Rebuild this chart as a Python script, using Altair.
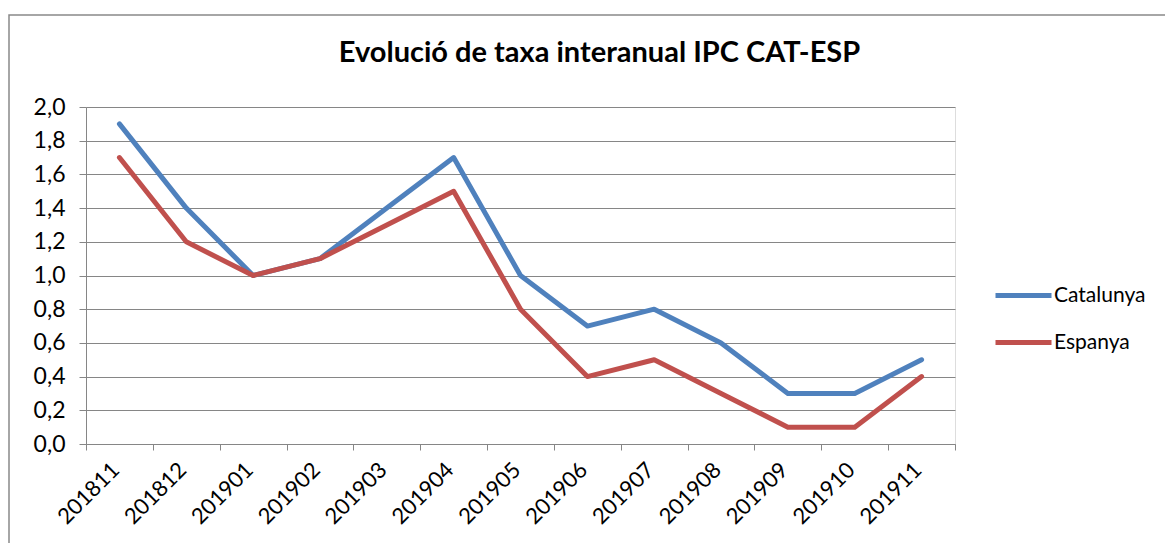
import altair as alt
import pandas as pd

periods = ["201811", "201812", "201901", "201902", "201903", "201904", "201905",
           "201906", "201907", "201908", "201909", "201910", "201911"]
catalunya = [1.9, 1.4, 1.0, 1.1, 1.4, 1.7, 1.0, 0.7, 0.8, 0.6, 0.3, 0.3, 0.5]
espanya = [1.7, 1.2, 1.0, 1.1, 1.3, 1.5, 0.8, 0.4, 0.5, 0.3, 0.1, 0.1, 0.4]
series_names = ["Catalunya", "Espanya"]
series_colors = ["#4F81BD", "#C0504D"]
y_ticks = [0.0, 0.2, 0.4, 0.6, 0.8, 1.0, 1.2, 1.4, 1.6, 1.8, 2.0]

rows = []
for p, c, e in zip(periods, catalunya, espanya):
    rows.append({"periode": p, "serie": "Catalunya", "valor": c})
    rows.append({"periode": p, "serie": "Espanya", "valor": e})
df = pd.DataFrame(rows)

FONT = "Lato"
GRID = "#868686"

lines = alt.Chart(df).mark_line(strokeWidth=5, strokeCap="round", strokeJoin="round").encode(
    x=alt.X("periode:N", sort=periods, title=None,
            scale=alt.Scale(paddingInner=0, paddingOuter=0),
            axis=alt.Axis(tickBand="extent", labelAngle=-45, labelAlign="right",
                          labelBaseline="middle", labelPadding=16, labelFontSize=22,
                          labelFont=FONT, labelColor="#000000", tickColor=GRID,
                          domainColor=GRID, tickSize=6, grid=False, labelOverlap=False,
                          labelOffset=-4)),
    y=alt.Y("valor:Q", title=None,
            scale=alt.Scale(domain=[0, 2.0], nice=False, zero=True),
            axis=alt.Axis(values=y_ticks,
                          labelExpr="replace(format(datum.value, '.1f'), '.', ',')",
                          labelFontSize=23, labelFont=FONT, labelColor="#000000",
                          tickColor=GRID, domainColor=GRID, gridColor=GRID,
                          tickSize=7, labelPadding=14)),
    color=alt.Color("serie:N", sort=series_names,
                    scale=alt.Scale(domain=series_names, range=series_colors),
                    legend=alt.Legend(title=None, orient="none", legendX=907, legendY=158,
                                      symbolType="stroke", symbolStrokeWidth=5,
                                      symbolSize=3136, labelFontSize=21, labelFont=FONT,
                                      labelColor="#000000", rowPadding=6, labelOffset=0)),
    order=alt.value(0),
)

border = alt.Chart(pd.DataFrame({"a": [0]})).mark_rect(
    fillOpacity=0, stroke="#898989", strokeWidth=1.5, clip=False
).encode(
    x=alt.value(-77), x2=alt.value(1300), y=alt.value(-92), y2=alt.value(700)
)

chart = alt.layer(border, lines).properties(
    width=869, height=337,
    autosize=alt.AutoSizeParams(type="none"),
    padding={"left": 78, "top": 99, "right": 210, "bottom": 99},
    title=alt.TitleParams("Evolució de taxa interanual IPC CAT-ESP", font=FONT,
                          fontSize=29, fontWeight="bold", color="#000000",
                          anchor="middle", frame="group", dx=79, offset=-77,
                          baseline="alphabetic"),
).configure_view(stroke=None).configure(background="white")

chart.save("out.html", embed_options={"renderer": "svg", "actions": False})
